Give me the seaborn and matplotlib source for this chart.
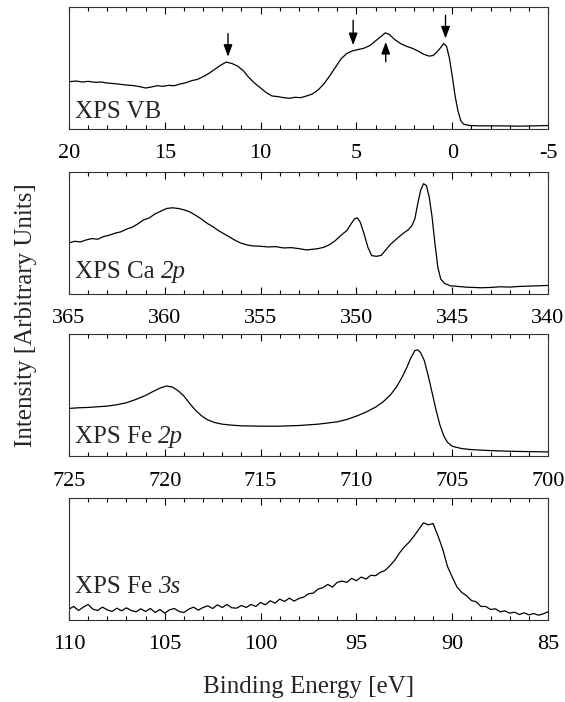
import matplotlib
matplotlib.use('Agg')
import matplotlib.pyplot as plt
from matplotlib.ticker import MultipleLocator, NullLocator
import seaborn as sns
import pandas as pd

# XPS valence band
vb_energy = [20.0, 19.6, 19.3, 19.0, 18.6, 18.3, 18.0, 17.6, 17.3, 17.0, 16.6, 16.3, 16.0, 15.7,
             15.4, 15.1, 14.8, 14.5, 14.2, 13.9, 13.6, 13.3, 13.0, 12.7, 12.4, 12.1, 11.8, 11.5,
             11.2, 10.9, 10.6, 10.3, 10.0, 9.7, 9.4, 9.1, 8.8, 8.5, 8.2, 7.9, 7.6, 7.3, 7.0, 6.7,
             6.4, 6.1, 5.8, 5.5, 5.2, 4.9, 4.6, 4.3, 4.0, 3.7, 3.5, 3.3, 3.0, 2.7, 2.4, 2.1, 1.8,
             1.5, 1.2, 1.0, 0.8, 0.6, 0.45, 0.3, 0.15, 0.0, -0.15, -0.3, -0.45, -0.6, -0.9, -1.5,
             -2.5, -3.5, -4.3, -5.0]
vb_int = [143, 145, 142, 144, 141, 142, 139, 137, 135, 133, 131, 128, 124, 127, 131, 129, 132,
          131, 136, 140, 146, 150, 158, 168, 180, 192, 202, 198, 190, 176, 155, 138, 124, 110,
          100, 98, 95, 93, 96, 95, 100, 106, 118, 136, 160, 186, 212, 228, 236, 240, 244, 252,
          266, 280, 290, 286, 270, 258, 250, 244, 236, 226, 220, 222, 232, 246, 258, 250, 215,
          160, 100, 55, 25, 15, 11, 10, 10, 9, 10, 11]
vb_arrows_x = [11.7, 5.17, 3.47, 0.35]
vb_arrows_from = [288, 328, 203, 343]
vb_arrows_to = [218, 253, 263, 273]

# XPS Ca 2p
ca_energy = [365.0, 364.7, 364.4, 364.1, 363.8, 363.5, 363.2, 362.9, 362.6, 362.3, 362.0, 361.7,
             361.4, 361.1, 360.8, 360.5, 360.2, 359.9, 359.6, 359.3, 359.0, 358.7, 358.4, 358.1,
             357.8, 357.5, 357.2, 356.9, 356.6, 356.3, 356.0, 355.7, 355.4, 355.0, 354.6, 354.2,
             353.8, 353.4, 353.0, 352.6, 352.3, 352.0, 351.7, 351.4, 351.1, 350.8, 350.5, 350.3,
             350.1, 349.95, 349.8, 349.6, 349.4, 349.2, 348.95, 348.7, 348.5, 348.2, 347.9,
             347.6, 347.3, 347.1, 346.95, 346.8, 346.65, 346.5, 346.35, 346.2, 346.05, 345.9,
             345.75, 345.6, 345.4, 345.1, 344.7, 344.3, 343.9, 343.5, 343.0, 342.5, 342.0,
             341.5, 341.0, 340.5, 340.0]
ca_int = [153, 158, 156, 162, 166, 164, 172, 176, 182, 186, 194, 200, 210, 222, 228, 240, 248,
          256, 258, 256, 252, 246, 236, 225, 212, 202, 190, 180, 170, 160, 152, 147, 144, 143,
          141, 142, 138, 139, 136, 132, 134, 136, 140, 148, 160, 176, 190, 208, 225, 228, 215,
          180, 140, 115, 113, 116, 130, 150, 165, 180, 192, 205, 225, 270, 310, 330, 325, 290,
          230, 150, 80, 45, 32, 25, 23, 21, 20, 19, 20, 22, 21, 23, 24, 25, 26]

# XPS Fe 2p
fe2p_energy = [725.0, 724.5, 724.0, 723.5, 723.0, 722.5, 722.0, 721.5, 721.0, 720.6, 720.2,
               719.9, 719.6, 719.3, 719.0, 718.7, 718.4, 718.1, 717.8, 717.4, 717.0, 716.5,
               716.0, 715.0, 714.0, 713.0, 712.0, 711.0, 710.5, 710.0, 709.5, 709.0, 708.6,
               708.2, 707.9, 707.6, 707.35, 707.15, 706.95, 706.8, 706.65, 706.45, 706.25,
               706.05, 705.85, 705.65, 705.45, 705.25, 705.0, 704.5, 704.0, 703.0, 702.0,
               701.0, 700.0]
fe2p_int = [143, 145, 146, 148, 150, 154, 160, 170, 182, 194, 205, 210, 207, 196, 180, 158, 138,
            122, 110, 101, 96, 93, 91, 90, 90, 92, 96, 103, 110, 120, 132, 147, 163, 185, 208,
            238, 268, 295, 316, 318, 310, 285, 240, 190, 140, 95, 62, 42, 30, 23, 20, 17, 15,
            14, 13]

# XPS Fe 3s
fe3s_energy = [110.0, 109.75, 109.5, 109.25, 109.0, 108.75, 108.5, 108.25, 108.0, 107.75, 107.5,
               107.25, 107.0, 106.75, 106.5, 106.25, 106.0, 105.75, 105.5, 105.25, 105.0,
               104.75, 104.5, 104.25, 104.0, 103.75, 103.5, 103.25, 103.0, 102.75, 102.5,
               102.25, 102.0, 101.75, 101.5, 101.25, 101.0, 100.75, 100.5, 100.25, 100.0,
               99.75, 99.5, 99.25, 99.0, 98.75, 98.5, 98.25, 98.0, 97.75, 97.5, 97.25, 97.0,
               96.75, 96.5, 96.25, 96.0, 95.75, 95.5, 95.25, 95.0, 94.75, 94.5, 94.25, 94.0,
               93.75, 93.5, 93.25, 93.0, 92.75, 92.5, 92.25, 92.0, 91.75, 91.5, 91.25, 91.0,
               90.75, 90.5, 90.25, 90.0, 89.75, 89.5, 89.25, 89.0, 88.75, 88.5, 88.25, 88.0,
               87.75, 87.5, 87.25, 87.0, 86.75, 86.5, 86.25, 86.0, 85.75, 85.5, 85.25, 85.0]
fe3s_int = [32, 40, 28, 38, 46, 32, 28, 38, 30, 25,
            35, 27, 36, 28, 24, 33, 25, 34, 22, 31,
            20, 30, 34, 25, 22, 32, 38, 29, 37, 42,
            34, 45, 37, 46, 36, 35, 43, 37, 46, 40,
            52, 45, 57, 50, 62, 55, 65, 56, 64, 68,
            78, 80, 92, 96, 106, 98, 112, 116, 112, 124,
            117, 128, 122, 133, 132, 142, 148, 162, 178, 200,
            218, 232, 250, 270, 290, 284, 288, 252, 212, 160,
            128, 98, 82, 72, 58, 54, 40, 40, 31, 33,
            24, 27, 20, 23, 16, 21, 15, 19, 14, 18, 24]

panels = [
    (vb_energy, vb_int, (20, -5), 368, 'XPS VB', '', 0.09),
    (ca_energy, ca_int, (365, 340), 365, 'XPS Ca ', '2p', 0.13),
    (fe2p_energy, fe2p_int, (725, 700), 365, 'XPS Fe ', '2p', 0.11),
    (fe3s_energy, fe3s_int, (110, 85), 365, 'XPS Fe ', '3s', 0.22),
]

sns.set_theme(style='ticks')
plt.rcParams['font.family'] = ['Liberation Serif', 'DejaVu Serif']
plt.rcParams['axes.unicode_minus'] = False

fig = plt.figure(figsize=(5.65, 7.02), dpi=100)
bottoms = [0.816, 0.581, 0.350, 0.117]
height = 0.174
axes = []
for (en, inten, xl, ytop, label, ital, ty), b in zip(panels, bottoms):
    ax = fig.add_axes([0.122, b, 0.848, height])
    df = pd.DataFrame({'E': en, 'I': inten})
    sns.lineplot(data=df, x='E', y='I', ax=ax, color='black', lw=0.9, sort=False, estimator=None)
    ax.set_xlim(*xl)
    ax.set_ylim(0, ytop)
    ax.xaxis.set_major_locator(MultipleLocator(5))
    ax.xaxis.set_minor_locator(MultipleLocator(1))
    ax.yaxis.set_major_locator(NullLocator())
    ax.tick_params(axis='x', which='both', direction='in', top=True, bottom=True,
                   labelsize=16, pad=11, colors='black')
    ax.tick_params(axis='x', which='major', length=5, width=0.8)
    ax.tick_params(axis='x', which='minor', length=3, width=0.8)
    for s in ax.spines.values():
        s.set_color('#333333')
        s.set_linewidth(0.8)
    ax.set_xlabel('')
    ax.set_ylabel('')
    t = ax.text(0.012, ty, label, transform=ax.transAxes, fontsize=18, va='baseline', ha='left')
    if ital:
        ax.annotate(ital, xy=(1, 0), xycoords=t, fontsize=18, style='italic',
                    va='bottom', ha='left')
    axes.append(ax)

for x, y0, y1 in zip(vb_arrows_x, vb_arrows_from, vb_arrows_to):
    axes[0].annotate('', xy=(x, y1), xytext=(x, y0),
                     arrowprops=dict(arrowstyle='-|>,head_width=0.22,head_length=0.6',
                                     color='black', lw=1, shrinkA=0, shrinkB=0))

fig.text(0.546, 0.021, 'Binding Energy [eV]', fontsize=18, ha='center', va='center')
fig.text(0.046, 0.551, 'Intensity [Arbitrary Units]', rotation=90, fontsize=18,
         ha='center', va='center')

fig.savefig('out.png', dpi=100)
